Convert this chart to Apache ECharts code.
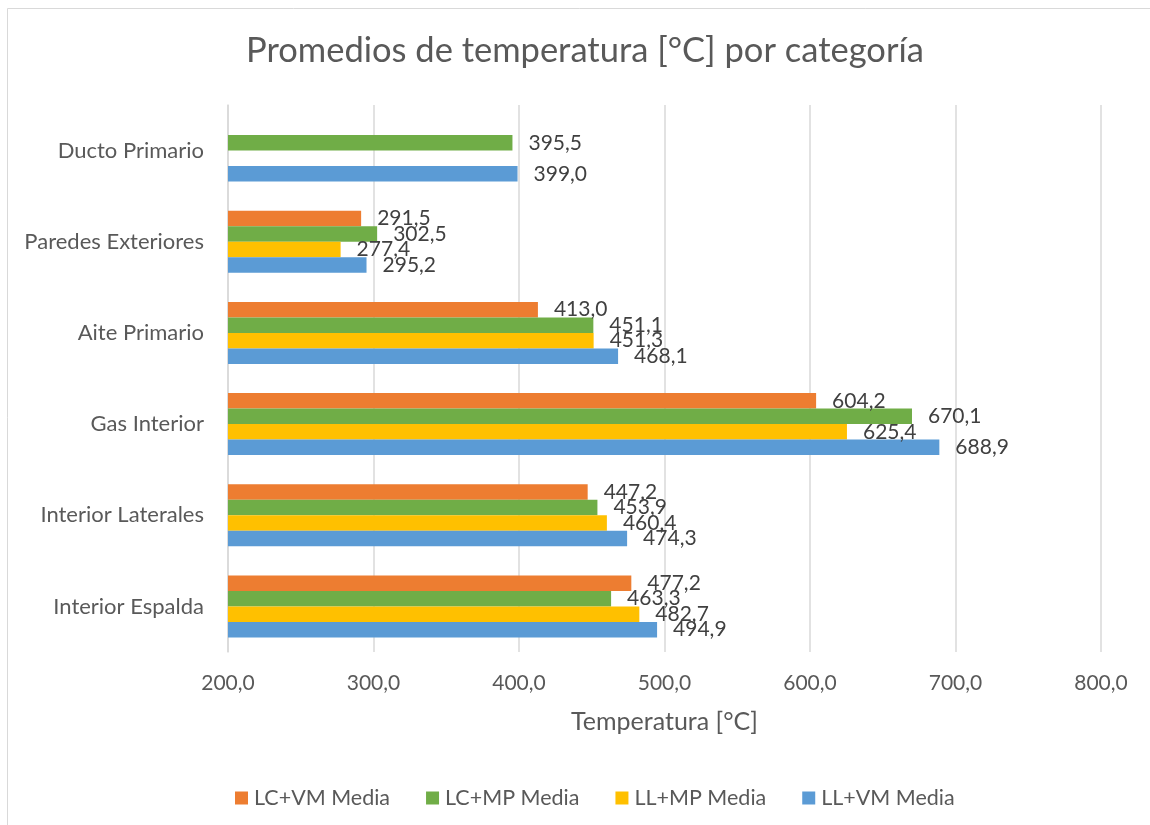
<!DOCTYPE html>
<html>
<head>
<meta charset="utf-8">
<script src="https://cdn.jsdelivr.net/npm/echarts@6/dist/echarts.min.js"></script>
<style>
html,body{margin:0;padding:0;background:#fff;}
#chart{width:1150px;height:825px;}
</style>
</head>
<body>
<div id="chart"></div>
<script>
const categories = ['Interior Espalda', 'Interior Laterales', 'Gas Interior', 'Aite Primario', 'Paredes Exteriores', 'Ducto Primario'];
const lcvm = [477.2, 447.2, 604.2, 413.0, 291.5, null];
const lcmp = [463.3, 453.9, 670.1, 451.1, 302.5, 395.5];
const llmp = [482.7, 460.4, 625.4, 451.3, 277.4, null];
const llvm = [494.9, 474.3, 688.9, 468.1, 295.2, 399.0];
const seriesNames = ['LC+VM Media', 'LC+MP Media', 'LL+MP Media', 'LL+VM Media'];
const xTicks = { min: 200, max: 800, interval: 100 };

const FONT = 'Lato';
const fmt = v => Number(v).toFixed(1).replace('.', ',');
const colors = ['#ED7D31', '#70AD47', '#FFC000', '#5B9BD5'];
const datasets = [lcvm, lcmp, llmp, llvm];

const chart = echarts.init(document.getElementById('chart'), null, { renderer: 'canvas' });
chart.setOption({
  animation: false,
  backgroundColor: '#fff',
  textStyle: { fontFamily: FONT },
  graphic: [{
    type: 'rect', left: 5, top: 6, silent: true,
    shape: { x: 0, y: 0, width: 1160, height: 830 },
    style: { fill: 'none', stroke: '#d9d9d9', lineWidth: 1 }
  }],
  title: {
    text: 'Promedios de temperatura [°C] por categoría',
    left: 241, top: 28,
    textStyle: { fontFamily: FONT, fontSize: 34.5, fontWeight: 'normal', color: '#595959' }
  },
  legend: {
    data: seriesNames,
    left: 230, top: 782,
    icon: 'rect', itemWidth: 13, itemHeight: 13, itemGap: 36,
    textStyle: { fontFamily: FONT, fontSize: 21.5, color: '#595959', padding: [0, 0, 0, 1] }
  },
  grid: { left: 228, right: 49, top: 105, bottom: 173, containLabel: false },
  xAxis: {
    type: 'value',
    min: xTicks.min, max: xTicks.max, interval: xTicks.interval,
    name: 'Temperatura [°C]', nameLocation: 'middle', nameGap: 57,
    nameTextStyle: { fontFamily: FONT, fontSize: 25, color: '#595959' },
    axisLine: { show: false }, axisTick: { show: false },
    axisLabel: { formatter: fmt, fontFamily: FONT, fontSize: 21, color: '#595959', margin: 21 },
    splitLine: { show: true, lineStyle: { color: '#d9d9d9', width: 1.5 } }
  },
  yAxis: {
    type: 'category',
    data: categories,
    axisLine: { show: true, lineStyle: { color: '#d9d9d9', width: 1.5 } },
    axisTick: { show: false },
    axisLabel: { fontFamily: FONT, fontSize: 22, color: '#595959', margin: 24 }
  },
  series: seriesNames.map((n, i) => ({
    name: n,
    type: 'bar',
    data: datasets[i],
    barGap: '0%',
    barCategoryGap: '32%',
    itemStyle: { color: colors[i] },
    label: {
      show: true, position: 'right', distance: 16,
      formatter: p => fmt(p.value),
      fontFamily: FONT, fontSize: 21, color: '#404040'
    }
  }))
});
</script>
</body>
</html>
